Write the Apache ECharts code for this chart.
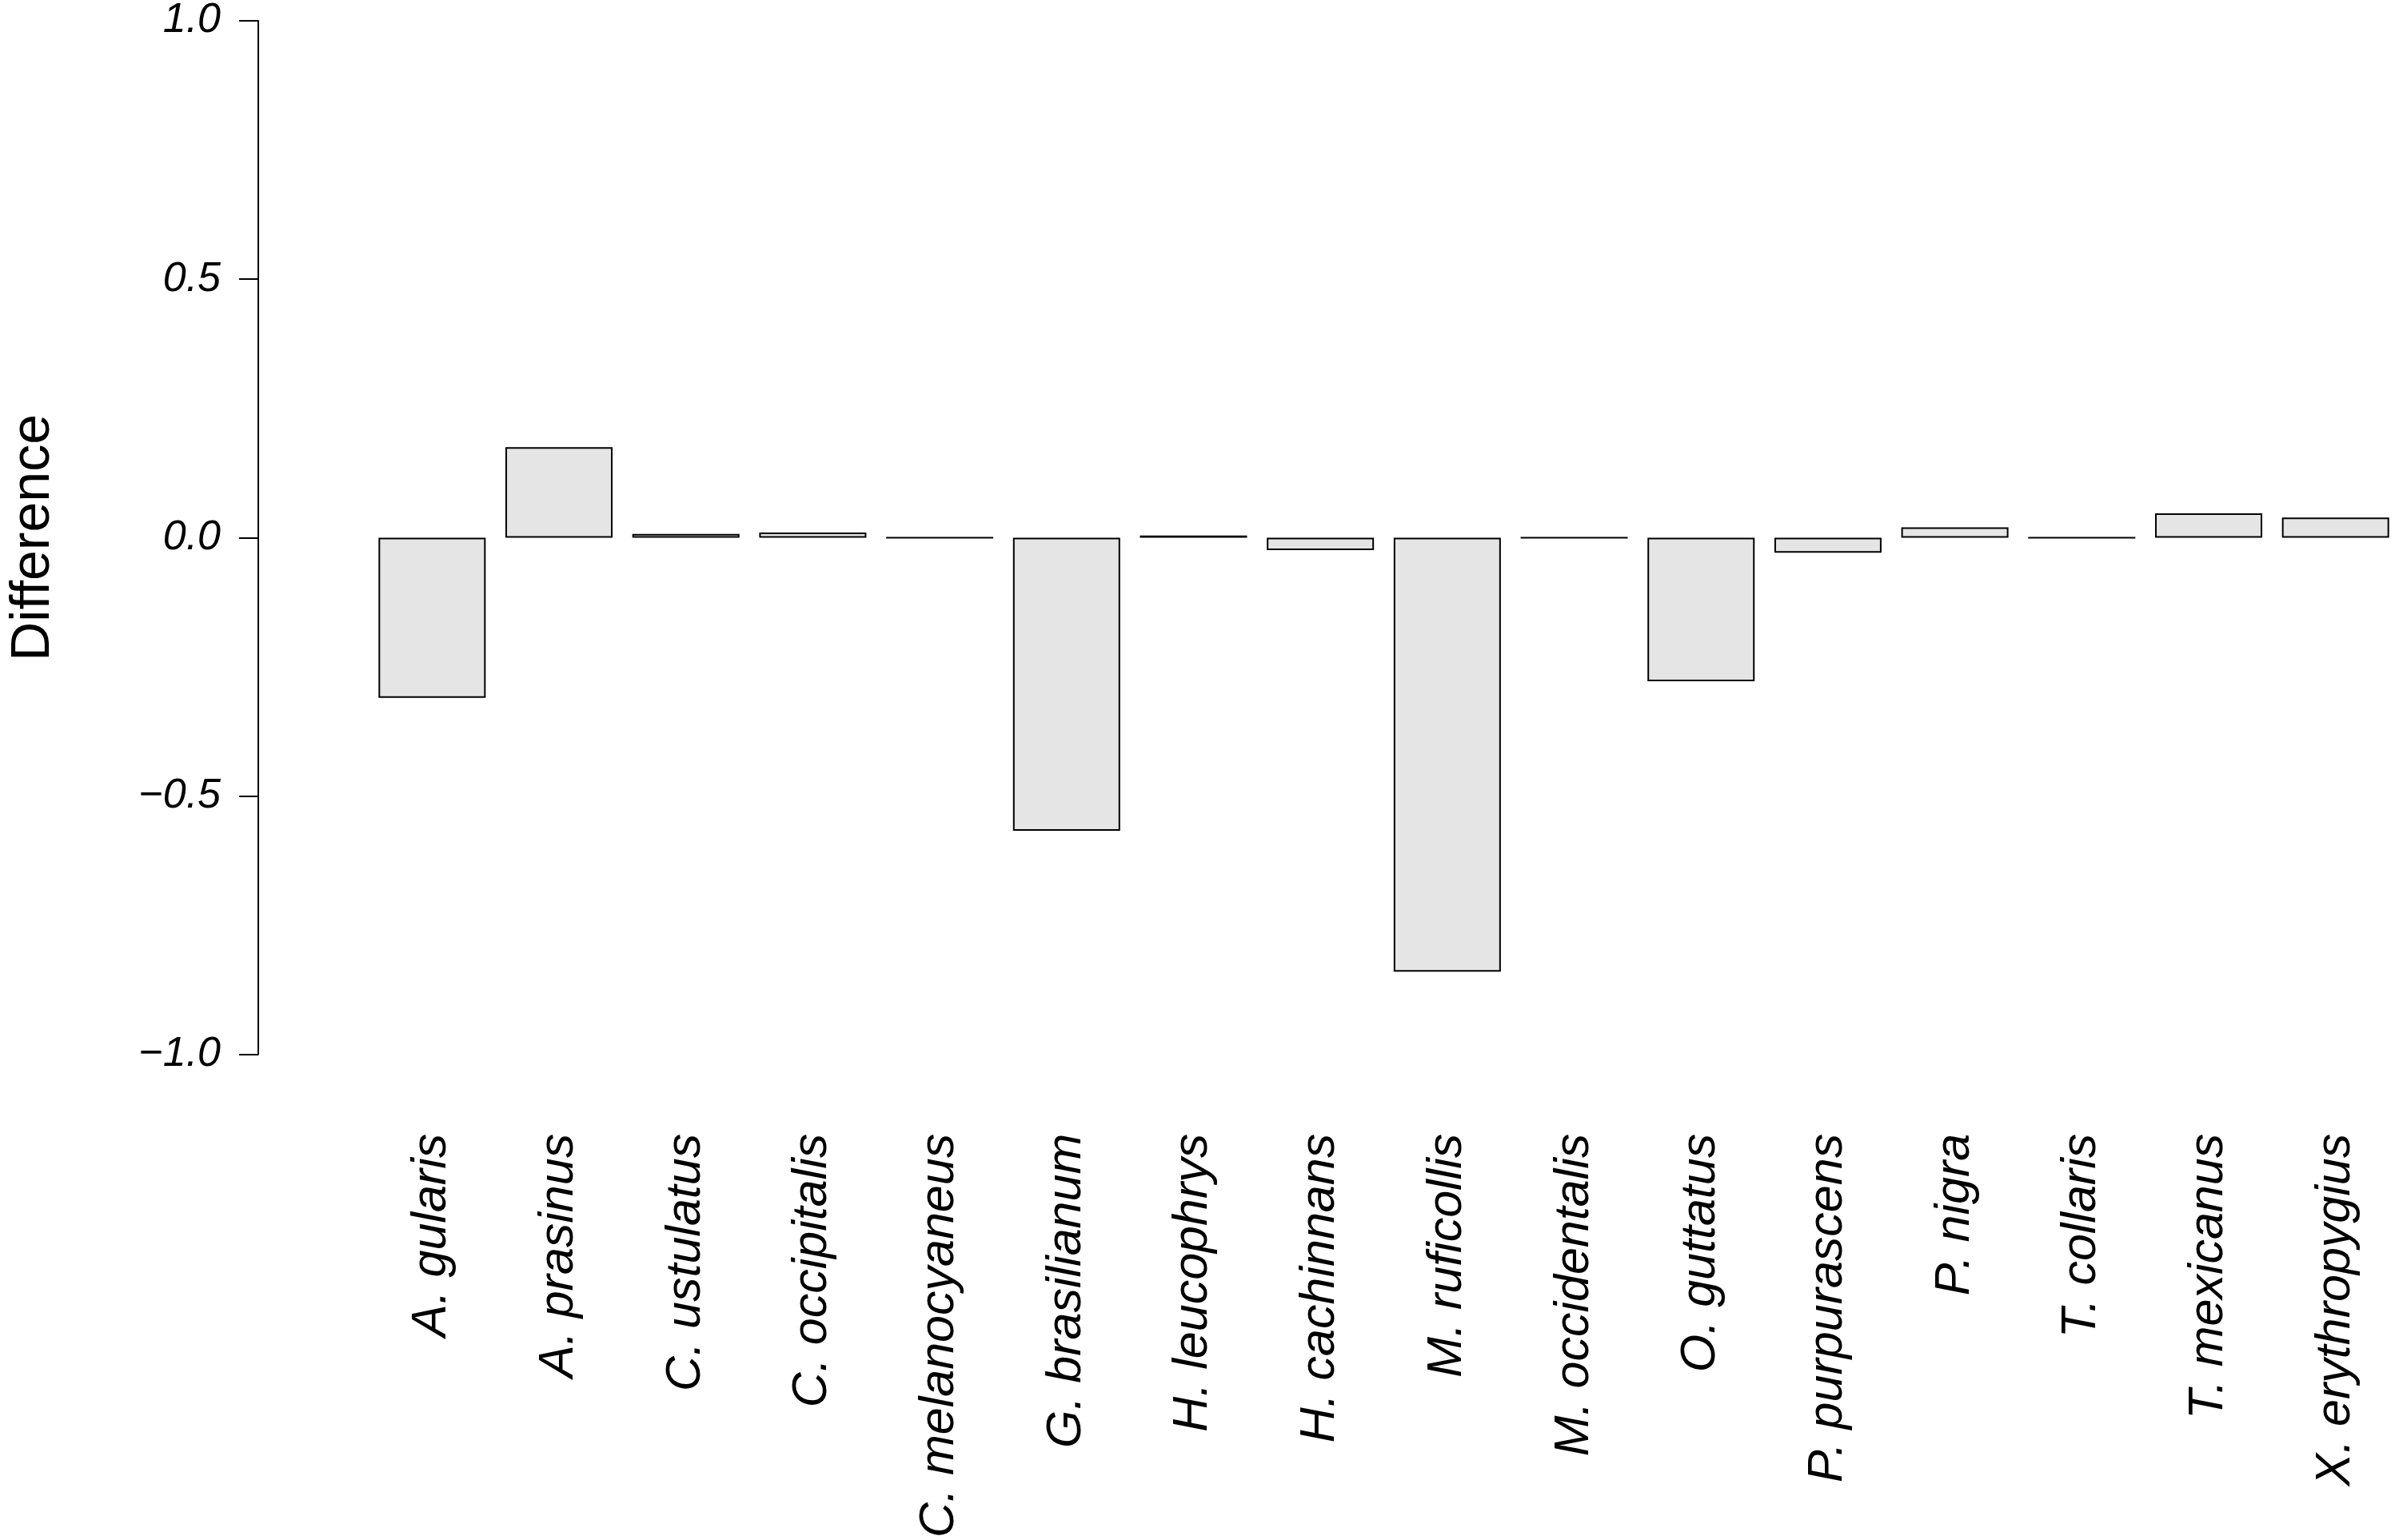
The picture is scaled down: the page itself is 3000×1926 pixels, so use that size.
<!DOCTYPE html>
<html>
<head>
<meta charset="utf-8">
<script src="https://cdn.jsdelivr.net/npm/echarts@6/dist/echarts.min.js"></script>
<style>
html,body{margin:0;padding:0;background:#fff;}
#chart{width:3000px;height:1926px;}
</style>
</head>
<body>
<div id="chart"></div>
<script>
const categories = ["A. gularis","A. prasinus","C. ustulatus","C. occipitalis","C. melanocyaneus","G. brasilianum","H. leucophrys","H. cachinnans","M. ruficollis","M. occidentalis","O. guttatus","P. purpurascens","P. nigra","T. collaris","T. mexicanus","X. erythropygius"];
const differences = [-0.31,0.175,0.007,0.01,0,-0.567,0.004,-0.024,-0.84,0,-0.278,-0.029,0.02,0,0.047,0.039];
const yTicks = {min:-1, max:1, interval:0.5};

const chart = echarts.init(document.getElementById('chart'), null, {renderer:'canvas'});
chart.setOption({
  backgroundColor:'#ffffff',
  animation:false,
  grid:{left:440, top:19, width:2571, height:1307, containLabel:false},
  xAxis:{
    type:'category',
    data:categories,
    position:'bottom',
    axisLine:{show:false},
    axisTick:{show:false},
    splitLine:{show:false},
    axisLabel:{
      rotate:90,
      interval:0,
      margin:99,
      fontFamily:'Liberation Sans',
      fontStyle:'italic',
      fontSize:61,
      color:'#000'
    }
  },
  yAxis:{
    type:'value',
    min:yTicks.min, max:yTicks.max, interval:yTicks.interval,
    position:'left',
    offset:138,
    name:'Difference',
    nameLocation:'middle',
    nameGap:247,
    nameTextStyle:{fontFamily:'Liberation Sans', fontSize:68, color:'#000'},
    axisLine:{show:true, lineStyle:{color:'#000', width:2}},
    axisTick:{show:true, length:24, lineStyle:{color:'#000', width:2}},
    splitLine:{show:false},
    axisLabel:{
      margin:47,
      fontFamily:'Liberation Sans',
      fontStyle:'italic',
      fontSize:52,
      color:'#000',
      formatter:function(v){ return v.toFixed(1).replace('-', '\u2212'); }
    }
  },
  series:[{
    type:'bar',
    data:differences,
    barWidth:134,
    itemStyle:{color:'#e5e5e5', borderColor:'#000', borderWidth:2}
  }]
});
</script>
</body>
</html>
